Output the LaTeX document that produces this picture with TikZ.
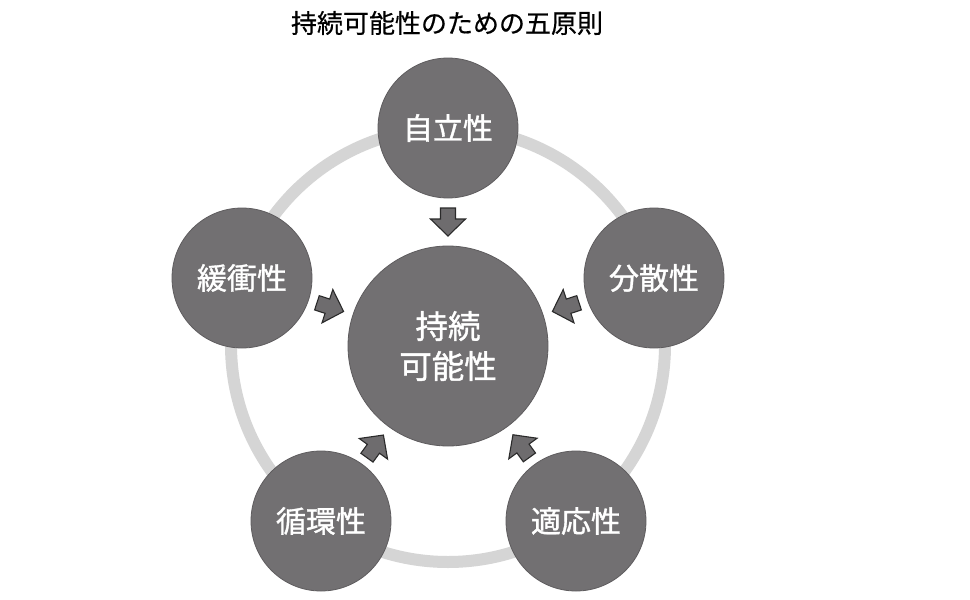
\documentclass[tikz,border=0pt]{standalone}
\usepackage{fontspec}
\newfontfamily\jp[FakeBold=0.5]{Noto Sans CJK JP}
\newfontfamily\jpm[FakeBold=1.2]{Noto Sans CJK JP}
\usetikzlibrary{calc}
\definecolor{circ}{HTML}{727072}
\definecolor{circedge}{HTML}{5E5C5E}
\definecolor{ringc}{HTML}{D5D5D5}
\definecolor{arrfill}{HTML}{6E6C6E}
\definecolor{arredge}{HTML}{2A2A2A}
\tikzset{
  x=1pt,y=1pt,
  outer/.style={circle,fill=circ,draw=circedge,line width=0.8pt,minimum size=140pt,inner sep=0pt,text=white,font=\jpm\fontsize{30}{34}\selectfont},
  core/.style={circle,fill=circ,draw=circedge,line width=0.8pt,minimum size=200pt,inner sep=0pt,text=white,align=center,font=\jpm\fontsize{32.5}{40}\selectfont},
  ring/.style={draw=ringc,line width=12pt},
  arrstyle/.style={fill=arrfill,draw=arredge,line width=1.1pt,line join=miter},
  blockarrow/.pic={\path[arrstyle] (-14,-7.5) -- (-3,-7.5) -- (-3,-17.5) -- (14,0) -- (-3,17.5) -- (-3,7.5) -- (-14,7.5) -- cycle;},
  titlestyle/.style={text=black,font=\jp\fontsize{26}{30}\selectfont}
}
\begin{document}
\begin{tikzpicture}
\useasboundingbox (0,0) rectangle (970,-600);
\fill[white] (0,0) rectangle (970,-600);
\coordinate (ringcenter) at (448,-345);
\draw[ring] (ringcenter) circle[radius=217];
\node[titlestyle] (title) at (447,-23) {持続可能性のための五原則};
\node[core] (C) at (448,-346) {持続\\可能性};
\node[outer] (A) at (448,-128) {自立性};
\node[outer] (B) at (654,-278) {分散性};
\node[outer] (D) at (576,-521) {適応性};
\node[outer] (E) at (321,-521) {循環性};
\node[outer] (F) at (242,-278) {緩衝性};
\pic[rotate=-90] at ($(C.center)!124pt!(A.center)$) {blockarrow};
\pic[rotate=198] at ($(C.center)!124pt!(B.center)$) {blockarrow};
\pic[rotate=126] at ($(C.center)!124pt!(D.center)$) {blockarrow};
\pic[rotate=54] at ($(C.center)!124pt!(E.center)$) {blockarrow};
\pic[rotate=-18] at ($(C.center)!124pt!(F.center)$) {blockarrow};
\end{tikzpicture}
\end{document}
